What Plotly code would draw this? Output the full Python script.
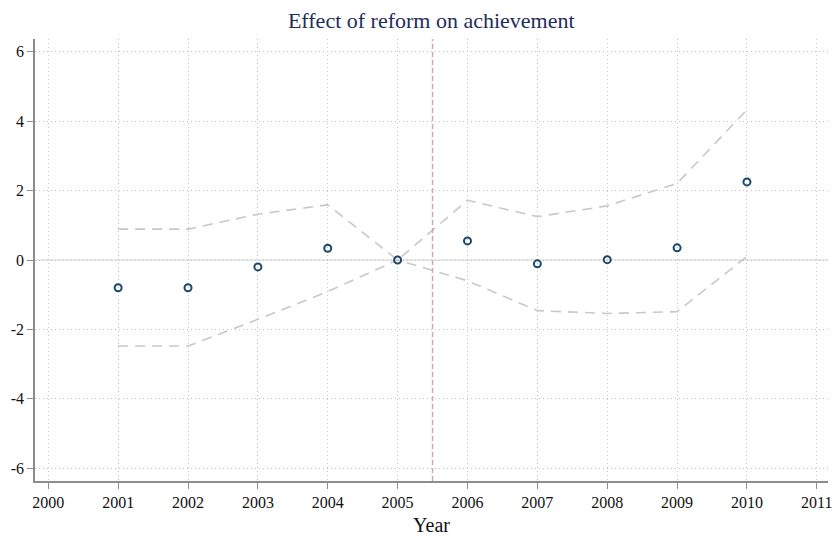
import plotly.graph_objects as go

years = [2001, 2002, 2003, 2004, 2005, 2006, 2007, 2008, 2009, 2010]
effect = [-0.80, -0.80, -0.20, 0.34, 0.00, 0.55, -0.11, 0.01, 0.35, 2.25]
ci_upper = [0.89, 0.89, 1.32, 1.59, 0.00, 1.72, 1.25, 1.56, 2.21, 4.33]
ci_lower = [-2.48, -2.48, -1.71, -0.91, 0.00, -0.60, -1.46, -1.54, -1.49, 0.10]
x_ticks = list(range(2000, 2012))
y_ticks = [-6, -4, -2, 0, 2, 4, 6]
y_labels = ["-6", "-4", "-2", "0", "2", "4", "6"]
reform_year = 2005.5
ref_zero = 0

serif = "Liberation Serif, Times New Roman, serif"
ci_color = "#c8c8c8"

fig = go.Figure()
fig.add_trace(go.Scatter(x=years, y=ci_upper, mode="lines",
                         line=dict(color=ci_color, width=1.6, dash="10px,7px"),
                         showlegend=False, hoverinfo="skip"))
fig.add_trace(go.Scatter(x=years, y=ci_lower, mode="lines",
                         line=dict(color=ci_color, width=1.6, dash="10px,7px"),
                         showlegend=False, hoverinfo="skip"))
fig.add_trace(go.Scatter(x=years, y=effect, mode="markers",
                         marker=dict(symbol="circle-open", size=7, color="#1a476f",
                                     line=dict(width=2, color="#1a476f")),
                         showlegend=False))

fig.add_hline(y=ref_zero, line=dict(color="#e2e2e2", width=1.5), layer="below")
fig.add_vline(x=reform_year, line=dict(color="#d3a6ad", width=1.5, dash="5px,3px"))

axis_common = dict(
    showline=True, linecolor="#8c8c8c", linewidth=1.5, mirror=False,
    ticks="outside", ticklen=6, tickcolor="#8c8c8c", tickwidth=1.2,
    showgrid=True, gridcolor="#c4c4c4", gridwidth=1, griddash="1px,3px",
    zeroline=False, automargin=False,
    tickfont=dict(family=serif, size=16, color="#111111"),
)

fig.update_layout(
    width=835, height=537,
    margin=dict(l=35, r=7, t=39, b=56),
    paper_bgcolor="white", plot_bgcolor="white",
    title=dict(text="Effect of reform on achievement", x=0.5165, xanchor="center",
               y=0.962, yanchor="middle",
               font=dict(family=serif, size=22, color="#1e2d5a")),
    xaxis=dict(axis_common, range=[1999.81, 2011.16], tickvals=x_ticks,
               title=dict(text="Year", font=dict(family=serif, size=20, color="#111111"),
                          standoff=8)),
    yaxis=dict(axis_common, range=[-6.37, 6.37], tickvals=y_ticks, ticktext=y_labels),
)

fig.write_html("out.html")
